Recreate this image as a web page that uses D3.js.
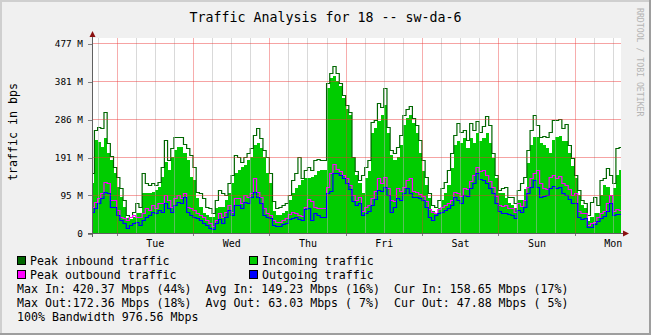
<!DOCTYPE html>
<html>
<head>
<meta charset="utf-8">
<script src="https://cdn.jsdelivr.net/npm/d3@7"></script>
<style>
  html, body { margin: 0; padding: 0; background: #f0f0f0; }
  svg { display: block; }
  text { font-family: "DejaVu Sans Mono", "Liberation Mono", monospace; }
</style>
</head>
<body>
<svg id="chart" width="651" height="335"></svg>
<script>
// ---- text ----
const chartTitle = "Traffic Analysis for 18 -- sw-da-6";
const yAxisTitle = "traffic in bps";
const creditText = "RRDTOOL / TOBI OETIKER";

// ---- time frame (hourly samples) ----
const HOUR = 3600e3;
const sampleStart = Date.UTC(2013, 0, 7, 16, 0);
const viewStart = Date.UTC(2013, 0, 7, 16, 14);
const viewEnd = Date.UTC(2013, 0, 14, 14, 36);

// ---- y axis: Mbps (2^20 bits) ----
const yMax = 476.84;
const yTickValues = [0, 95.37, 190.73, 286.1, 381.47, 476.84];
const yTickLabels = ["0", "95 M", "191 M", "286 M", "381 M", "477 M"];

// ---- series, Mbps, one value per hour ----
const peakIn = [
  151,259,266,264,304,226,193,166,141,113,
  83,45,40,53,75,65,151,126,120,126,
  120,128,166,233,183,213,241,241,241,223,
  213,196,166,103,100,88,65,63,50,83,
  108,100,95,126,146,196,191,178,191,201,
  213,246,264,238,208,191,151,80,63,65,
  70,75,95,133,151,191,138,158,166,158,
  183,186,183,183,376,402,420.37,402,376,346,
  321,304,191,156,133,146,166,183,279,284,
  326,316,364,266,208,201,216,246,296,311,
  319,289,271,233,183,141,100,70,65,83,
  113,128,158,201,246,276,254,259,233,276,
  259,281,254,269,294,271,201,146,108,113,
  115,90,90,75,108,126,141,208,259,296,
  271,241,243,241,254,284,284,286,264,274,
  221,188,146,108,83,75,45,78,90,70,
  133,138,163,146,126,213,216
];
const incoming = [
  126,233,228,216,238,201,183,151,115,90,
  65,38,35,40,50,50,100,100,100,103,
  108,115,141,178,158,191,208,216,216,201,
  183,141,133,88,65,50,45,40,40,63,
  65,65,83,100,126,151,158,166,171,183,
  191,221,226,213,191,151,126,55,45,45,
  50,55,83,100,113,120,133,138,138,141,
  146,156,158,158,364,389,394,381,369,340,
  312,296,188,146,126,100,138,156,251,264,
  281,296,321,251,196,183,191,221,271,289,
  296,276,251,201,156,120,88,55,50,63,
  83,100,120,163,221,231,226,238,213,238,
  226,251,231,238,251,226,188,138,100,100,
  88,75,70,63,83,83,110,176,221,241,
  241,226,221,213,201,233,241,243,231,231,
  201,168,138,95,70,63,30,40,50,50,
  95,120,115,95,113,146,158.65
];
const peakOut = [
  65,78,88,100,128,126,83,83,58,40,
  38,33,40,45,40,40,50,63,58,70,
  63,75,75,95,83,65,88,95,88,100,
  65,63,58,50,45,40,33,25,18,33,
  50,40,53,70,53,88,88,75,95,90,
  100,138,103,90,63,50,45,33,28,28,
  33,38,48,53,50,45,43,65,85,80,
  65,63,63,63,115,151,172.36,161,156,146,
  138,120,95,83,90,55,65,70,88,105,
  138,126,141,113,83,80,113,105,115,133,
  138,105,103,98,93,80,60,53,50,60,
  65,70,75,83,103,100,93,113,110,131,
  146,166,156,158,146,131,115,93,70,68,
  70,63,63,53,75,68,83,115,138,151,
  158,126,113,110,141,146,138,143,126,120,
  110,95,100,55,50,50,20,25,28,40,
  50,55,75,95,55,60,58
];
const outgoing = [
  53,63,75,88,103,100,65,65,45,33,
  25,13,20,25,28,20,33,40,45,53,
  50,58,53,75,63,53,70,78,75,90,
  53,45,40,38,33,25,20,13,10,25,
  35,25,40,58,45,70,70,63,78,75,
  90,103,90,75,45,40,38,20,18,18,
  23,25,35,38,40,35,33,60,63,33,
  50,45,40,40,100,105,151,151,146,138,
  126,110,80,70,75,45,50,55,70,85,
  108,105,115,95,53,65,88,83,100,113,
  100,90,90,88,83,65,40,33,45,50,
  53,58,63,70,90,83,75,95,93,113,
  126,151,136,133,126,113,100,75,55,50,
  50,48,45,38,58,53,65,100,115,133,
  115,90,93,95,113,118,113,115,100,95,
  85,75,75,40,35,38,15,15,23,30,
  38,43,55,75,45,48,47.88
];

// ---- legend ----
const legendNames = ["Peak inbound traffic", "Incoming traffic", "Peak outbound traffic", "Outgoing traffic"];
const legendColors = ["#006600", "#00cc00", "#ff00ff", "#0000ff"];
const statLines = [
  "Max In: 420.37 Mbps (44%)  Avg In: 149.23 Mbps (16%)  Cur In: 158.65 Mbps (17%)",
  "Max Out:172.36 Mbps (18%)  Avg Out: 63.03 Mbps ( 7%)  Cur Out: 47.88 Mbps ( 5%)",
  "100% Bandwidth 976.56 Mbps"
];

// ---- layout ----
const W = 651, H = 335;
const plot = { left: 92, right: 621, top: 38, bottom: 233 };

const svg = d3.select("#chart");

// frame with bevel
svg.append("rect").attr("width", W).attr("height", H).attr("fill", "#f0f0f0");
svg.append("path").attr("d", `M0,0H${W}V2H2V${H}H0Z`).attr("fill", "#cfcfcf");
svg.append("path").attr("d", `M${W},0V${H}H0V${H-2}H${W-2}V0Z`).attr("fill", "#9e9e9e");

const x = d3.scaleUtc().domain([viewStart, viewEnd]).range([plot.left, plot.right]);
const y = d3.scaleLinear().domain([0, yMax]).range([plot.bottom, 43]);

// canvas
svg.append("rect")
  .attr("x", plot.left).attr("y", plot.top)
  .attr("width", plot.right - plot.left).attr("height", plot.bottom - plot.top)
  .attr("fill", "#ffffff");

svg.append("clipPath").attr("id", "clip")
  .append("rect")
  .attr("x", plot.left).attr("y", plot.top)
  .attr("width", plot.right - plot.left).attr("height", plot.bottom - plot.top);

const toPoints = arr => {
  const p = arr.map((v, i) => [sampleStart + i * HOUR, v]);
  p.push([sampleStart + arr.length * HOUR, arr[arr.length - 1]]);
  return p;
};

const area = d3.area().curve(d3.curveStepAfter)
  .x(d => x(d[0])).y0(y(0)).y1(d => y(d[1]));
const line = d3.line().curve(d3.curveStepAfter)
  .x(d => x(d[0])).y(d => Math.round(y(d[1])) + 0.5);

const g = svg.append("g").attr("clip-path", "url(#clip)");

g.append("path").datum(toPoints(incoming))
  .attr("d", area).attr("fill", legendColors[1]).attr("shape-rendering", "crispEdges");
g.append("path").datum(toPoints(peakIn))
  .attr("d", line).attr("fill", "none").attr("stroke", legendColors[0]).attr("stroke-width", 1.2);
g.append("path").datum(toPoints(peakOut))
  .attr("d", line).attr("fill", "none").attr("stroke", legendColors[2]).attr("stroke-width", 1.2);
g.append("path").datum(toPoints(outgoing))
  .attr("d", line).attr("fill", "none").attr("stroke", legendColors[3]).attr("stroke-width", 1.2);

// grid (drawn over the data, translucent)
const days = d3.utcDay.range(viewStart, viewEnd);
const sixHours = d3.utcHour.every(6).range(viewStart, viewEnd).filter(d => d.getUTCHours() !== 0);
const snap = v => Math.round(v) + 0.5;

const gridG = svg.append("g").attr("shape-rendering", "crispEdges");
gridG.selectAll("line.minor").data(sixHours).join("line").attr("class", "minor")
  .attr("x1", d => snap(x(d))).attr("x2", d => snap(x(d)))
  .attr("y1", plot.top).attr("y2", plot.bottom)
  .attr("stroke", "rgba(180,180,180,0.5)");
gridG.selectAll("line.major").data(days).join("line").attr("class", "major")
  .attr("x1", d => snap(x(d))).attr("x2", d => snap(x(d)))
  .attr("y1", plot.top).attr("y2", plot.bottom)
  .attr("stroke", "rgba(235,50,50,0.4)");
gridG.selectAll("line.hgrid").data(yTickValues.slice(1)).join("line").attr("class", "hgrid")
  .attr("x1", plot.left).attr("x2", plot.right)
  .attr("y1", d => snap(y(d))).attr("y2", d => snap(y(d)))
  .attr("stroke", "rgba(235,50,50,0.45)");

// y axis labels and ticks
const yAxis = d3.axisLeft(y).tickValues(yTickValues)
  .tickFormat((d, i) => yTickLabels[i]).tickSize(4).tickPadding(5);
const yAxisG = svg.append("g").attr("transform", `translate(${plot.left},0.5)`).call(yAxis);
yAxisG.select(".domain").remove();
yAxisG.selectAll("line").attr("stroke", "#808080").attr("shape-rendering", "crispEdges");
yAxisG.selectAll("text").attr("font-size", "9.4px").attr("fill", "#000")
  .attr("font-family", "DejaVu Sans Mono, monospace");

// x axis ticks and day labels
const xTickG = svg.append("g").attr("shape-rendering", "crispEdges");
xTickG.selectAll("line").data(days).join("line")
  .attr("x1", d => snap(x(d))).attr("x2", d => snap(x(d)))
  .attr("y1", plot.bottom).attr("y2", plot.bottom + 3)
  .attr("stroke", "#808080");

const noons = days.map(d => d3.utcHour.offset(d, 12)).filter(d => d < viewEnd);
const xAxis = d3.axisBottom(x).tickValues(noons).tickFormat(d3.utcFormat("%a")).tickSize(0).tickPadding(7);
const xAxisG = svg.append("g").attr("transform", `translate(0,${plot.bottom})`).call(xAxis);
xAxisG.select(".domain").remove();
xAxisG.selectAll("text").attr("font-size", "10px").attr("fill", "#000")
  .attr("font-family", "DejaVu Sans Mono, monospace");

// axis lines with arrow heads
const axisG = svg.append("g").attr("shape-rendering", "crispEdges");
axisG.append("line").attr("x1", plot.left + 0.5).attr("x2", plot.left + 0.5)
  .attr("y1", plot.bottom + 4).attr("y2", plot.top - 3).attr("stroke", "#606060");
axisG.append("line").attr("x1", plot.left - 4).attr("x2", plot.right + 4)
  .attr("y1", plot.bottom + 0.5).attr("y2", plot.bottom + 0.5).attr("stroke", "#606060");
svg.append("path")
  .attr("d", `M${plot.left + 0.5},${plot.top - 7}L${plot.left + 3.5},${plot.top - 1}L${plot.left - 2.5},${plot.top - 1}Z`)
  .attr("fill", "#8b1010");
svg.append("path")
  .attr("d", `M${plot.right + 8},${plot.bottom + 0.5}L${plot.right + 2},${plot.bottom - 2.5}L${plot.right + 2},${plot.bottom + 3.5}Z`)
  .attr("fill", "#8b1010");

// titles
svg.append("text").attr("x", W / 2).attr("y", 22).attr("text-anchor", "middle")
  .attr("font-size", "13.3px").attr("fill", "#000").text(chartTitle);
svg.append("text").attr("transform", "translate(17,132) rotate(-90)")
  .attr("text-anchor", "middle").attr("font-size", "11.6px").attr("fill", "#000").text(yAxisTitle);
svg.append("text").attr("transform", "translate(637,8) rotate(90)")
  .attr("text-anchor", "start").attr("font-size", "8.2px").attr("fill", "#b4b4b4").text(creditText);

// legend
const legendPos = [[17, 261], [249, 261], [17, 275], [249, 275]];
const lg = svg.append("g");
legendNames.forEach((name, i) => {
  const [lx, ly] = legendPos[i];
  lg.append("rect").attr("x", lx + 0.5).attr("y", ly - 4.5).attr("width", 8).attr("height", 8)
    .attr("fill", legendColors[i]).attr("stroke", "#000").attr("stroke-width", 1)
    .attr("shape-rendering", "crispEdges");
  lg.append("text").attr("x", lx + 13).attr("y", ly + 4).attr("font-size", "11.6px")
    .attr("fill", "#000").text(name);
});
statLines.forEach((s, i) => {
  lg.append("text").attr("x", 17).attr("y", 293 + i * 14).attr("font-size", "11.6px")
    .attr("xml:space", "preserve").style("white-space", "pre").attr("fill", "#000").text(s);
});
</script>
</body>
</html>
